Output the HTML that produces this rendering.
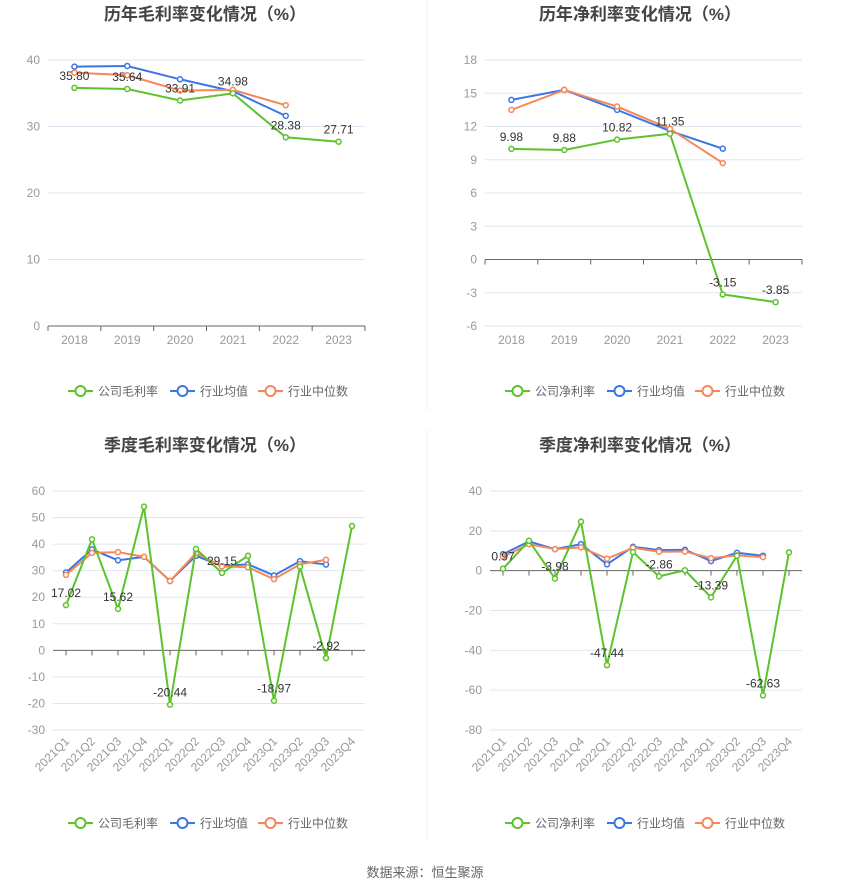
<!DOCTYPE html>
<html><head><meta charset="utf-8"><style>
body{margin:0;background:#fff;width:850px;height:890px;overflow:hidden;font-family:"Liberation Sans","Noto Sans CJK SC",sans-serif}
</style></head><body>
<svg id="s" width="850" height="890" xmlns="http://www.w3.org/2000/svg" font-family="Liberation Sans, Noto Sans CJK SC, sans-serif"></svg>
<script>
const G='#5cc32c',B='#3b76e6',O='#f5875a';
let h='';
h+='<line x1="427" y1="0" x2="427" y2="410" stroke="#eee"/><line x1="427" y1="430" x2="427" y2="840" stroke="#eee"/>';
function chart(o){
  const {x0,x1,yT,yB,vT,vB,step,cats,ser,labels,title,tx,ty,ly,rot,leg}=o;
  const Y=v=>yT+(vT-v)/(vT-vB)*(yB-yT);
  const n=cats.length,bw=(x1-x0)/n,X=i=>x0+bw*(i+.5);
  h+=`<text x="${tx}" y="${ty}" font-size="17" font-weight="bold" fill="#444" text-anchor="middle">${title}</text>`;
  for(let v=vT;v>=vB;v-=step){const y=Y(v);
    h+=`<line x1="${x0}" x2="${x1}" y1="${y}" y2="${y}" stroke="${v==0?'#666':'#e0e6f1'}"/>`;
    h+=`<text x="${x0-8}" y="${y+4}" font-size="12" fill="#999" text-anchor="end">${v}</text>`;}
  const y0=Y(0);
  for(let i=0;i<n;i++){ if(rot){h+=`<line x1="${X(i)}" x2="${X(i)}" y1="${y0}" y2="${y0+5}" stroke="#666"/>`;} }
  if(!rot) for(let i=0;i<=n;i++) h+=`<line x1="${x0+bw*i}" x2="${x0+bw*i}" y1="${y0}" y2="${y0+5}" stroke="#666"/>`;
  cats.forEach((c,i)=>{ if(rot) h+=`<text transform="translate(${X(i)+4},${yB+12}) rotate(-45)" font-size="12" fill="#999" text-anchor="end">${c}</text>`;
    else h+=`<text x="${X(i)}" y="${yB+18}" font-size="12" fill="#999" text-anchor="middle">${c}</text>`;});
  ser.forEach(([col,d])=>{
    h+=`<polyline fill="none" stroke="${col}" stroke-width="2" points="${d.map((v,i)=>X(i)+','+Y(v)).join(' ')}"/>`;
    d.forEach((v,i)=>h+=`<circle cx="${X(i)}" cy="${Y(v)}" r="2.5" fill="#fff" stroke="${col}" stroke-width="1.5"/>`);});
  const g=ser[ser.length-1][1];
  labels.forEach(i=>h+=`<text x="${X(i)}" y="${Y(g[i])-8}" font-size="12" fill="#333" text-anchor="middle">${g[i].toFixed(2)}</text>`);
  const lx=o.lx;
  [[G,leg],[B,'行业均值'],[O,'行业中位数']].forEach(([c,t],k)=>{const x=lx+[0,102,190][k];
    h+=`<line x1="${x}" x2="${x+25}" y1="${ly}" y2="${ly}" stroke="${c}" stroke-width="2"/><circle cx="${x+12.5}" cy="${ly}" r="5" fill="#fff" stroke="${c}" stroke-width="2"/>`;
    h+=`<text x="${x+30}" y="${ly+4.5}" font-size="12" fill="#666">${t}</text>`;});
}
const yrs=['2018','2019','2020','2021','2022','2023'];
const qs=['2021Q1','2021Q2','2021Q3','2021Q4','2022Q1','2022Q2','2022Q3','2022Q4','2023Q1','2023Q2','2023Q3','2023Q4'];
chart({x0:48,x1:365,yT:60,yB:326,vT:40,vB:0,step:10,cats:yrs,title:'历年毛利率变化情况（%）',tx:205,ty:20,ly:391,lx:68,leg:'公司毛利率',
 ser:[[B,[39,39.1,37.1,35.3,31.6]],[O,[38.1,37.7,35.4,35.5,33.2]],[G,[35.80,35.64,33.91,34.98,28.38,27.71]]],labels:[0,1,2,3,4,5]});
chart({x0:485,x1:802,yT:60,yB:326,vT:18,vB:-6,step:3,cats:yrs,title:'历年净利率变化情况（%）',tx:640,ty:20,ly:391,lx:505,leg:'公司净利率',
 ser:[[B,[14.4,15.3,13.5,11.6,10.0]],[O,[13.5,15.3,13.8,11.8,8.7]],[G,[9.98,9.88,10.82,11.35,-3.15,-3.85]]],labels:[0,1,2,3,4,5]});
chart({x0:53,x1:365,yT:491,yB:730,vT:60,vB:-30,step:10,cats:qs,rot:1,title:'季度毛利率变化情况（%）',tx:205,ty:451,ly:823,lx:68,leg:'公司毛利率',
 ser:[[B,[29.3,38,33.9,35.2,26.1,35.6,31.7,32.4,28.2,33.6,32.3]],[O,[28.4,36.7,37,35.2,26.1,36.6,31.6,31.3,26.8,32.4,34.1]],[G,[17.02,41.8,15.62,54.1,-20.44,38.2,29.15,35.6,-18.97,31.5,-2.92,46.8]]],labels:[0,2,4,6,8,10]});
chart({x0:490,x1:802,yT:491,yB:730,vT:40,vB:-80,step:20,cats:qs,rot:1,title:'季度净利率变化情况（%）',tx:640,ty:451,ly:823,lx:505,leg:'公司净利率',
 ser:[[B,[8.3,14.7,10.8,13.3,3.2,12,10.3,10.5,4.8,9,7.5]],[O,[7,13.3,10.8,11.7,6,11.5,9.5,9.6,6.3,7.7,6.8]],[G,[0.97,15,-3.98,24.6,-47.44,9.3,-2.86,0.2,-13.39,7.5,-62.63,9.2]]],labels:[0,2,4,6,8,10]});
h+='<text x="425" y="877" font-size="13" fill="#666" text-anchor="middle">数据来源：恒生聚源</text>';
document.getElementById('s').innerHTML=h;
</script>
</body></html>
